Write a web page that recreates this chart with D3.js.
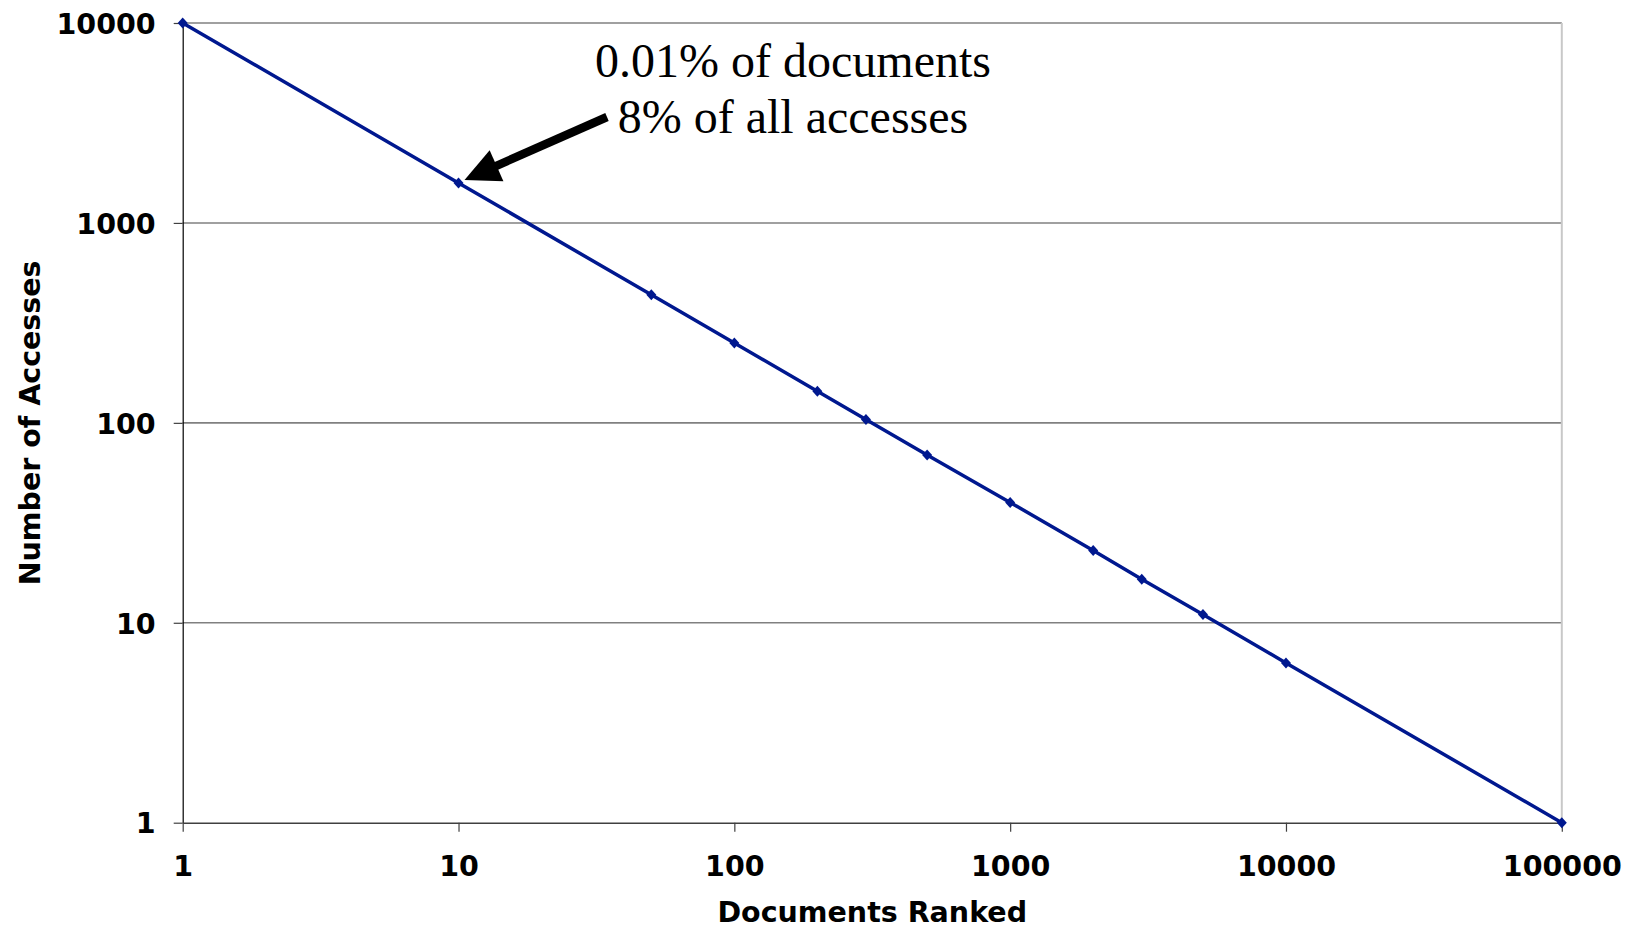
<!DOCTYPE html>
<html>
<head>
<meta charset="utf-8">
<script src="https://cdn.jsdelivr.net/npm/d3@7"></script>
<style>
  html, body { margin: 0; padding: 0; background: #fff; }
  svg { display: block; }
</style>
</head>
<body>
<svg id="chart" width="1637" height="931"></svg>
<script>
// Document popularity: accesses by rank (log–log)
const ranks    = [1, 10, 50, 100, 200, 300, 500, 1000, 2000, 3000, 5000, 10000, 100000];
const accesses = [10000, 1585, 437, 251, 144, 104, 69, 40, 23, 16.5, 11, 6.3, 1];

const xTickValues = [1, 10, 100, 1000, 10000, 100000];
const yTickValues = [1, 10, 100, 1000, 10000];

const noteLines = ["0.01% of documents", "8% of all accesses"];
const noteRank = 10;
const noteValue = 1585;

const xTitle = "Documents Ranked";
const yTitle = "Number of Accesses";

const svg = d3.select("#chart");
const plotLeft = 182.7, plotRight = 1561.8, plotTop = 23, plotBottom = 822.7;

const x = d3.scaleLog().domain([1, 100000]).range([plotLeft, plotRight]);
const y = d3.scaleLog().domain([1, 10000]).range([plotBottom, plotTop]);

const labelFont = "'DejaVu Sans', Verdana, sans-serif";

// horizontal gridlines
svg.append("g")
  .selectAll("line")
  .data(yTickValues.filter(v => v > 1))
  .join("line")
  .attr("x1", plotLeft).attr("x2", plotRight)
  .attr("y1", d => y(d)).attr("y2", d => y(d))
  .attr("stroke", "#808080")
  .attr("stroke-width", 1.6);

// right frame edge
svg.append("line")
  .attr("x1", plotRight).attr("x2", plotRight)
  .attr("y1", plotTop).attr("y2", plotBottom)
  .attr("stroke", "#c8c8c8")
  .attr("stroke-width", 2);

// y axis
const yAxis = svg.append("g")
  .attr("transform", `translate(${plotLeft},0)`)
  .call(d3.axisLeft(y).tickValues(yTickValues).tickFormat(d3.format("d")).tickSize(9).tickSizeOuter(0));
yAxis.select(".domain").attr("stroke", "#000").attr("stroke-width", 1.2);
yAxis.selectAll(".tick line").attr("stroke", "#404040").attr("stroke-width", 1.2);
yAxis.selectAll(".tick text")
  .attr("x", -27)
  .attr("dy", "0.36em")
  .attr("fill", "#000")
  .style("font-family", labelFont)
  .style("font-weight", "bold")
  .style("font-size", "28.5px");

// x axis
const xAxis = svg.append("g")
  .attr("transform", `translate(0,${plotBottom})`)
  .call(d3.axisBottom(x).tickValues(xTickValues).tickFormat(d3.format("d")).tickSize(9).tickSizeOuter(0));
xAxis.select(".domain").attr("stroke", "#404040").attr("stroke-width", 1.6);
xAxis.selectAll(".tick line").attr("stroke", "#404040").attr("stroke-width", 1.2);
xAxis.selectAll(".tick text")
  .attr("y", 53)
  .attr("dy", 0)
  .attr("fill", "#000")
  .style("font-family", labelFont)
  .style("font-weight", "bold")
  .style("font-size", "28.5px");

// axis titles
svg.append("text")
  .attr("x", (plotLeft + plotRight) / 2)
  .attr("y", 922)
  .attr("text-anchor", "middle")
  .style("font-family", labelFont)
  .style("font-weight", "bold")
  .style("font-size", "28.5px")
  .text(xTitle);

svg.append("text")
  .attr("transform", `translate(40,${(plotTop + plotBottom) / 2}) rotate(-90)`)
  .attr("text-anchor", "middle")
  .style("font-family", labelFont)
  .style("font-weight", "bold")
  .style("font-size", "28.5px")
  .text(yTitle);

// series line
const pts = ranks.map((r, i) => [r, accesses[i]]);
svg.append("path")
  .datum(pts)
  .attr("fill", "none")
  .attr("stroke", "#00188f")
  .attr("stroke-width", 3.5)
  .attr("d", d3.line().x(d => x(d[0])).y(d => y(d[1])));

// diamond markers
svg.append("g")
  .selectAll("path")
  .data(pts)
  .join("path")
  .attr("transform", d => `translate(${x(d[0])},${y(d[1])})`)
  .attr("d", "M0,-5.5L5,0L0,5.5L-5,0Z")
  .attr("fill", "#00188f");

// annotation text
const note = svg.append("text")
  .attr("text-anchor", "middle")
  .style("font-family", "'Liberation Serif', 'Times New Roman', serif")
  .style("font-size", "48px")
  .attr("fill", "#000");
note.selectAll("tspan")
  .data(noteLines)
  .join("tspan")
  .attr("x", 793)
  .attr("y", (d, i) => 77 + i * 56)
  .text(d => d);

// annotation arrow pointing at the rank-10 point
const tipX = x(noteRank) + 6, tipY = y(noteValue) - 3;
const tailX = 607, tailY = 117;
const ang = Math.atan2(tipY - tailY, tipX - tailX);
const headLen = 35, headHalf = 17, shaft = 8.5;
const ux = Math.cos(ang), uy = Math.sin(ang), px = -uy, py = ux;
const bx = tipX - ux * headLen, by = tipY - uy * headLen;
svg.append("line")
  .attr("x1", tailX).attr("y1", tailY)
  .attr("x2", bx + ux * 2).attr("y2", by + uy * 2)
  .attr("stroke", "#000")
  .attr("stroke-width", shaft);
svg.append("path")
  .attr("d", `M${tipX},${tipY}L${bx + px * headHalf},${by + py * headHalf}L${bx - px * headHalf},${by - py * headHalf}Z`)
  .attr("fill", "#000");
</script>
</body>
</html>
